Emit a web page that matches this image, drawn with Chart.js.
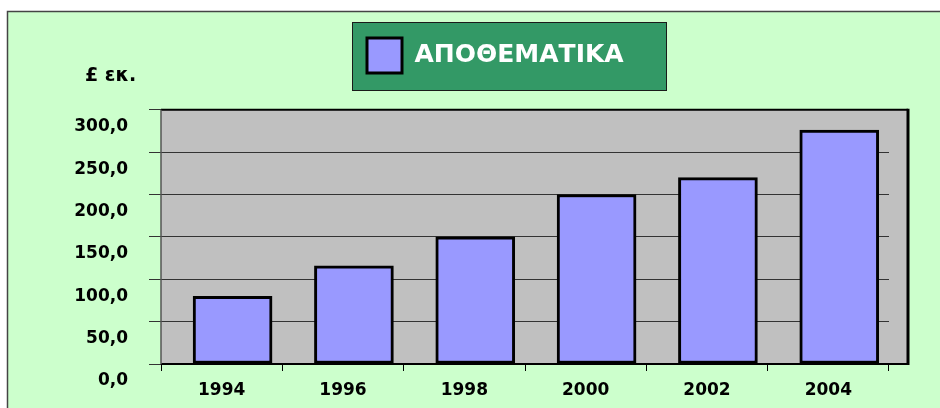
<!DOCTYPE html>
<html>
<head>
<meta charset="utf-8">
<script src="https://cdn.jsdelivr.net/npm/chart.js@4.4.1/dist/chart.umd.min.js"></script>
<style>
  html, body { margin: 0; padding: 0; background: #fff; }
</style>
</head>
<body>
<canvas id="chart-apothematika" width="940" height="408"></canvas>
<script>
// datos del gráfico
const years = ['1994', '1996', '1998', '2000', '2002', '2004'];
const savings = [80, 116, 150, 200, 220, 276];
const yTickLabels = ['0,0', '50,0', '100,0', '150,0', '200,0', '250,0', '300,0'];
const seriesName = 'ΑΠΟΘΕΜΑΤΙΚΑ';
const unitLabel = '£ εκ.';

const FONT = "'DejaVu Sans', Arial, sans-serif";
const BAR_SHIFT = 0.09; // las barras van un poco a la derecha del centro de categoría

// fondo verde, caja de la leyenda y área gris del gráfico
const fondo = {
  id: 'fondo',
  afterLayout(chart) {
    // leyenda: caja de color en (367, 38)
    const lg = chart.legend;
    const pad = lg.options.labels.padding;
    const naturalX = (lg.left + pad + lg.right - lg.lineWidths[0]) / 2;
    const dx = 367 - naturalX;
    const dy = 38 - (lg.top + pad);
    lg.left += dx; lg.right += dx;
    lg.top += dy; lg.bottom += dy;
    // título "£ εκ." un poco a la derecha
    const t = chart.titleBlock;
    t.left += 11; t.right += 11;
  },
  beforeDraw(chart) {
    const { ctx, chartArea: a, width, height } = chart;
    ctx.save();
    ctx.fillStyle = '#fff';
    ctx.fillRect(0, 0, width, height);
    ctx.fillStyle = '#CCFFCC';
    ctx.fillRect(7, 11, width, height);
    ctx.strokeStyle = '#444';
    ctx.lineWidth = 1.5;
    ctx.strokeRect(7.5, 11.5, width, height);

    const hb = chart.legend.legendHitBoxes && chart.legend.legendHitBoxes[0];
    if (hb) {
      ctx.fillStyle = '#339966';
      ctx.fillRect(hb.left - 15, hb.top - 16, 314, 68);
      ctx.strokeStyle = '#1a1a1a';
      ctx.lineWidth = 1;
      ctx.strokeRect(hb.left - 14.5, hb.top - 15.5, 314, 68);
    }

    ctx.fillStyle = '#C0C0C0';
    ctx.fillRect(a.left, a.top, a.width + 19, a.height);
    ctx.restore();
  },
  afterDraw(chart) {
    const { ctx, chartArea: a } = chart;
    const r = a.right + 19;
    ctx.save();
    ctx.strokeStyle = '#000';
    ctx.lineWidth = 2;
    ctx.beginPath();
    ctx.moveTo(a.left, a.top); ctx.lineTo(r, a.top);
    ctx.moveTo(a.left, a.bottom); ctx.lineTo(r, a.bottom);
    ctx.stroke();
    ctx.lineWidth = 3;
    ctx.beginPath();
    ctx.moveTo(r, a.top - 1); ctx.lineTo(r, a.bottom + 1);
    ctx.stroke();
    ctx.strokeStyle = '#555';
    ctx.lineWidth = 1.5;
    ctx.beginPath();
    ctx.moveTo(a.left, a.top); ctx.lineTo(a.left, a.bottom);
    ctx.stroke();
    ctx.restore();
  }
};

const ctx = document.getElementById('chart-apothematika').getContext('2d');

new Chart(ctx, {
  type: 'bar',
  data: {
    labels: years,
    datasets: [{
      label: seriesName,
      data: savings.map((v, i) => ({ x: i, y: v })),
      xAxisID: 'xb',
      yAxisID: 'y',
      backgroundColor: '#9999FF',
      borderColor: '#000',
      borderWidth: 3,
      borderSkipped: false,
      barThickness: 79
    }]
  },
  options: {
    responsive: false,
    animation: false,
    devicePixelRatio: 1,
    layout: { padding: { left: 74, right: 51, top: 10, bottom: 8 } },
    plugins: {
      legend: {
        position: 'top',
        labels: {
          boxWidth: 35,
          boxHeight: 35,
          padding: 10,
          color: '#fff',
          font: { family: FONT, size: 25, weight: 'bold' }
        }
      },
      title: {
        display: true,
        text: unitLabel,
        align: 'start',
        weight: 500,
        color: '#000',
        font: { family: FONT, size: 19, weight: 'bold' },
        padding: { top: 0, bottom: 22 }
      },
      tooltip: { enabled: false }
    },
    scales: {
      x: {
        type: 'category',
        offset: true,
        grid: { offset: true, drawOnChartArea: false, drawTicks: true, tickLength: 7, color: '#000' },
        border: { display: false },
        ticks: {
          color: '#000',
          font: { family: FONT, size: 17, weight: 'bold' },
          padding: 9,
          maxRotation: 0,
          autoSkip: false
        },
        afterFit: s => { s.height = 36; }
      },
      xb: {
        type: 'linear',
        display: false,
        offset: false,
        min: -0.5 - BAR_SHIFT,
        max: years.length - 0.5 - BAR_SHIFT
      },
      y: {
        min: 0,
        max: 300,
        ticks: {
          stepSize: 50,
          callback: (v, i) => yTickLabels[i],
          color: '#000',
          font: { family: FONT, size: 17, weight: 'bold' },
          padding: 21,
          labelOffset: 17
        },
        grid: { color: '#333', tickColor: '#333', tickLength: 12 },
        border: { display: false },
        afterFit: s => { s.width = 87; }
      }
    }
  },
  plugins: [fondo]
});
</script>
</body>
</html>
